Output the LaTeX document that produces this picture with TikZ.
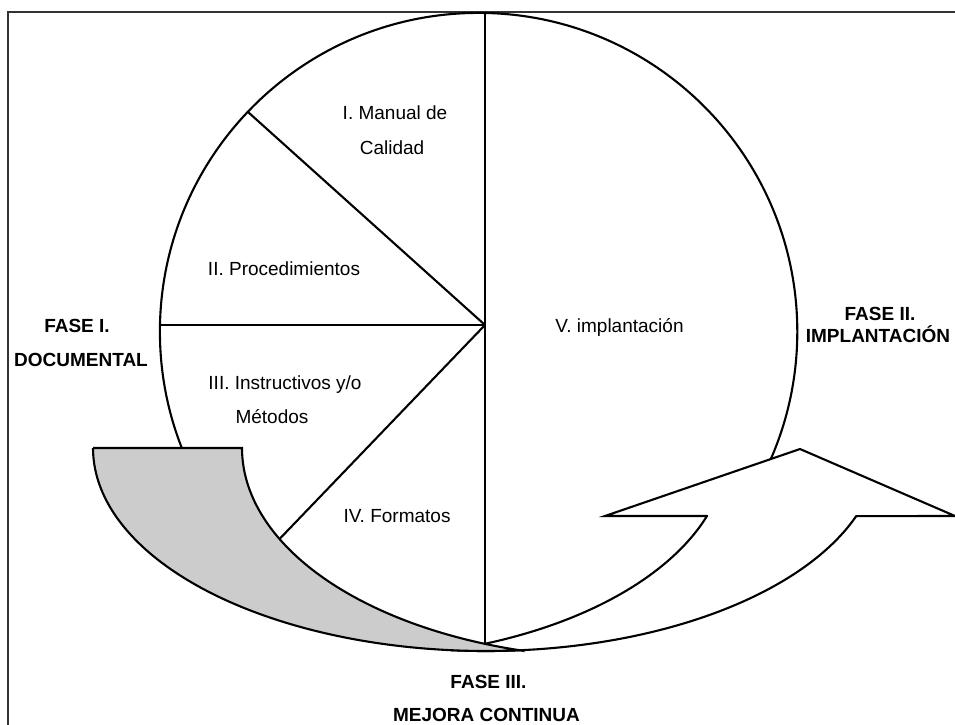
\documentclass[tikz,border=0pt]{standalone}
\usepackage{fontspec}
\setmainfont{Liberation Sans}
\begin{document}
\begin{tikzpicture}[x=1pt,y=-1pt,
  edge/.style={line width=2.1pt, line join=miter, draw=black},
  lbl/.style={font=\fontsize{19}{22}\selectfont, inner sep=0pt, anchor=base},
  fase/.style={font=\bfseries\fontsize{19}{22}\selectfont, inner sep=0pt, anchor=base},
  tailfill/.style={fill=gray!40},
  headfill/.style={fill=white}]
\useasboundingbox (0,0) rectangle (955,724);
% frame
\draw[line width=1.5pt, black!80] (8,730) -- (8,12) -- (962,12);
% circle
\coordinate (C) at (478.6,331.6);
\draw[edge] (C) circle[radius=318.7pt];
% radial lines
\coordinate (O) at (485,325);
\coordinate (top) at (485,13);
\coordinate (bot) at (485,650);
\coordinate (left) at (160,325);
\coordinate (ul) at (248,112);
\coordinate (ll) at (268,551);
\draw[edge] (top) -- (bot);
\draw[edge] (O) -- (left);
\draw[edge] (O) -- (ul);
\draw[edge] (O) -- (ll);
% white arrow (head part)
\filldraw[edge, headfill] plot[domain=95.2:19.6, samples=90] ({486+393*cos(\x)},{448+203*sin(\x)})
  -- (955,516) -- (800,449) -- (605,516) -- (707,516)
  -- plot[domain=18.9:74.3, samples=80] ({347.5+380*cos(\x)},{448+210*sin(\x)}) -- cycle;
% gray tail
\filldraw[edge, tailfill] (93,448) -- (242,448)
  -- plot[domain=180:105.5, samples=90] ({622+380*cos(\x)},{448+210*sin(\x)})
  -- plot[domain=85:180, samples=90] ({486+393*cos(\x)},{448+203*sin(\x)}) -- cycle;
% labels
\node[lbl] (t1a) at (395,119) {I. Manual de};
\node[lbl] (t1b) at (392,154) {Calidad};
\node[lbl] (t2) at (284,275) {II. Procedimientos};
\node[lbl] (t3a) at (285,389) {III. Instructivos y/o};
\node[lbl] (t3b) at (272,423) {Métodos};
\node[lbl] (t4) at (397,522) {IV. Formatos};
\node[lbl] (t5) at (619.5,332) {V. implantación};
\node[fase] (f1a) at (77,332) {FASE I.};
\node[fase] (f1b) at (81,366) {DOCUMENTAL};
\node[fase] (f2a) at (880,320) {FASE II.};
\node[fase] (f2b) at (878,342) {IMPLANTACIÓN};
\node[fase] (f3a) at (488.5,688) {FASE III.};
\node[fase] (f3b) at (486.5,721) {MEJORA CONTINUA};
\end{tikzpicture}
\end{document}
